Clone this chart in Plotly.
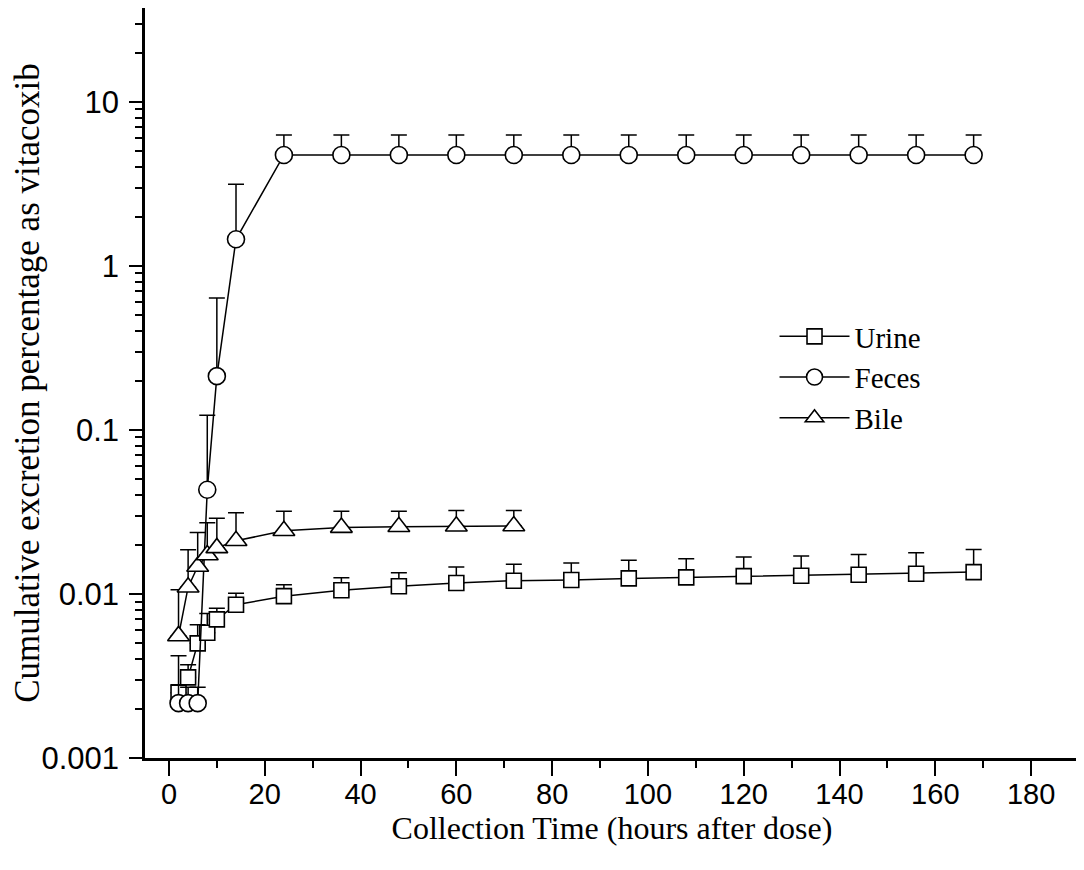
import numpy as np
import plotly.graph_objects as go

# collection times (h)
t_urine = [2, 4, 6, 8, 10, 14, 24, 36, 48, 60, 72, 84, 96, 108, 120, 132, 144, 156, 168]
t_feces = [2, 4, 6, 8, 10, 14, 24, 36, 48, 60, 72, 84, 96, 108, 120, 132, 144, 156, 168]
t_bile = [2, 4, 6, 8, 10, 14, 24, 36, 48, 60, 72]

# mean cumulative excretion (%) and top of the error bar (mean + SD)
urine = [0.0025, 0.0031, 0.0050, 0.0058, 0.0070, 0.0086, 0.0097, 0.01054, 0.01114,
         0.01166, 0.01205, 0.01216, 0.01245, 0.01262, 0.01286, 0.01292, 0.0131,
         0.01328, 0.0136]
urine_top = [0.0042, 0.0037, 0.0065, 0.0076, 0.0082, 0.0101, 0.0114, 0.01256, 0.01346,
             0.01463, 0.0152, 0.01546, 0.01604, 0.01641, 0.0168, 0.01704, 0.01743,
             0.01783, 0.0187]

feces = [0.00216, 0.00216, 0.00216, 0.0432, 0.213, 1.455, 4.75, 4.75, 4.75, 4.75,
         4.75, 4.75, 4.75, 4.75, 4.75, 4.75, 4.75, 4.75, 4.75]
feces_top = [0.0028, 0.0027, 0.0027, 0.1228, 0.638, 3.15, 6.3, 6.3, 6.3, 6.3,
             6.3, 6.3, 6.3, 6.3, 6.3, 6.3, 6.3, 6.3, 6.3]

bile = [0.00555, 0.0110, 0.0147, 0.0173, 0.0191, 0.0211, 0.0243, 0.0254, 0.0257,
        0.0259, 0.0260]
bile_top = [0.0106, 0.0186, 0.0237, 0.0272, 0.0290, 0.0313, 0.0320, 0.0320, 0.0320,
            0.0323, 0.0323]

x_ticks = [0, 20, 40, 60, 80, 100, 120, 140, 160, 180]
y_ticks = [0.001, 0.01, 0.1, 1, 10]
y_labels = ["0.001", "0.01", "0.1", "1", "10"]

serif = "Liberation Serif, Times New Roman, serif"
sans = "Liberation Sans, Arial, sans-serif"


def add_series(fig, x, y, top, name, symbol, size):
    up = list(np.array(top) - np.array(y))
    fig.add_trace(go.Scatter(
        x=x, y=y, name=name, mode="lines+markers",
        line=dict(color="black", width=1.5),
        marker=dict(symbol=symbol, size=size, color="white",
                    line=dict(color="black", width=1.6)),
        error_y=dict(type="data", symmetric=False, array=up,
                     arrayminus=[0] * len(y), color="black",
                     thickness=1.5, width=8),
    ))


fig = go.Figure()
add_series(fig, t_urine, urine, urine_top, "Urine", "square", 15)
add_series(fig, t_feces, feces, feces_top, "Feces", "circle", 17)
add_series(fig, t_bile, bile, bile_top, "Bile", "triangle-up", 19)

minor_y = [m * 10.0 ** e for e in range(-3, 1) for m in range(2, 10)] + [20, 30]

# page body adds 8px margin, so the figure margins are shifted accordingly
fig.update_layout(
    width=1084, height=870,
    margin=dict(l=137, r=13, t=0, b=120),
    plot_bgcolor="white", paper_bgcolor="white",
    showlegend=True,
    legend=dict(x=0.674, y=0.596, xanchor="left", yanchor="top",
                font=dict(family=serif, size=29, color="black"),
                itemwidth=70, bgcolor="rgba(0,0,0,0)", tracegroupgap=0),
    xaxis=dict(
        range=[-5, 190], tickmode="array", tickvals=x_ticks,
        ticks="outside", ticklen=15, tickwidth=2, tickcolor="black",
        showline=True, linewidth=2.5, linecolor="black",
        showgrid=False, zeroline=False, automargin=False,
        minor=dict(tickmode="array", tickvals=list(range(10, 200, 20)),
                   ticks="outside", ticklen=7, tickwidth=2, tickcolor="black",
                   showgrid=False),
        tickfont=dict(family=sans, size=29, color="black"),
        ticklabelstandoff=-7,
        title=dict(text="Collection Time (hours after dose)", standoff=0,
                   font=dict(family=serif, size=32, color="black")),
    ),
    yaxis=dict(
        type="log", range=[-3, 1.573],
        tickmode="array", tickvals=y_ticks, ticktext=y_labels,
        ticks="outside", ticklen=13, tickwidth=2, tickcolor="black",
        showline=True, linewidth=2.5, linecolor="black",
        showgrid=False, zeroline=False, automargin=False,
        minor=dict(tickmode="array", tickvals=minor_y,
                   ticks="outside", ticklen=7, tickwidth=2, tickcolor="black",
                   showgrid=False),
        tickfont=dict(family=sans, size=31, color="black"),
        ticklabelstandoff=4,
        title=dict(text="Cumulative excretion percentage as vitacoxib", standoff=14,
                   font=dict(family=serif, size=35, color="black")),
    ),
)

fig.write_html("out.html")
